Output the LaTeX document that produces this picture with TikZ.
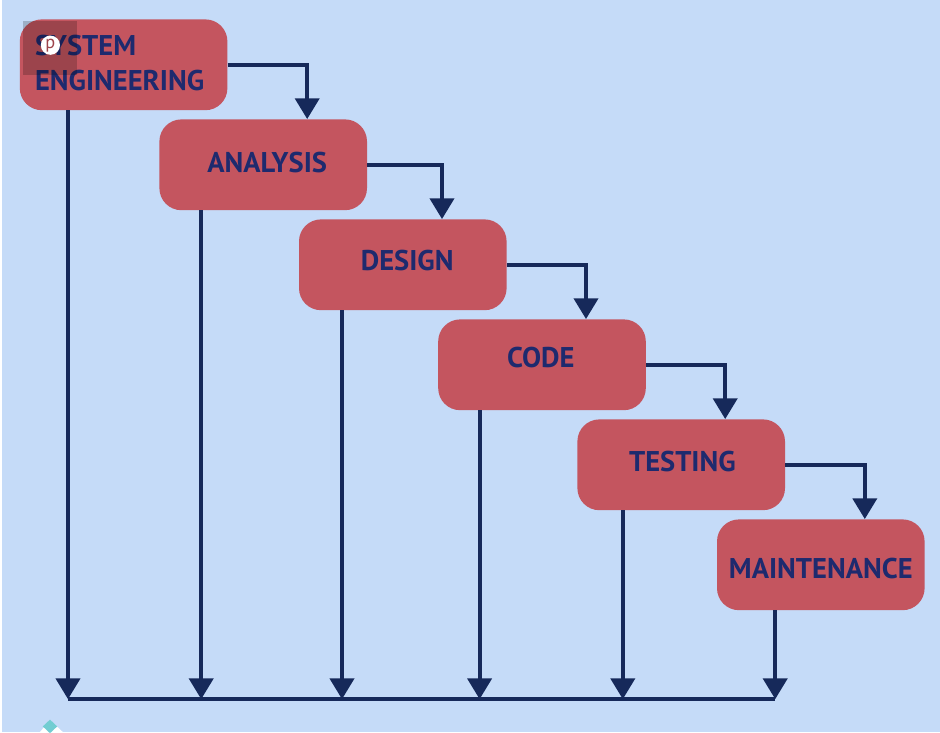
\documentclass[tikz,border=0pt]{standalone}
\usepackage{xcolor}
\usepackage{fontspec}
\setmainfont{PT Sans}
\usetikzlibrary{arrows.meta, positioning, shapes.geometric}
\definecolor{wfback}{HTML}{C5DBF8}
\definecolor{wfbox}{HTML}{C4555F}
\definecolor{wftext}{HTML}{1E2A6E}
\definecolor{wfline}{HTML}{16295A}
\definecolor{wfteal}{HTML}{72CDD2}
\tikzset{
    stagebox/.style={fill=wfbox, minimum width=5.19cm, minimum height=2.27cm, rounded corners=0.55cm},
    stagetext/.style={text=wftext, inner sep=0pt, align=left, font=\fontsize{20.3}{25}\selectfont\bfseries},
    flow/.style={-{Triangle[length=0.52cm, width=0.6cm]}, line width=0.1cm, wfline},
}

\begin{document}
\begin{tikzpicture}
    \clip (0, 0) rectangle (23.5, 18.3);
    \fill[white] (0, 0) rectangle (23.5, 18.3);
    \fill[wfback] (0.05, 0) rectangle (23.5, 18.3);

    % Stages
    \node[stagebox] (system) at (3.09, 16.68) {};
    \node[stagebox] (analysis) at (6.58, 14.18) {};
    \node[stagebox] (design) at (10.07, 11.68) {};
    \node[stagebox] (code) at (13.55, 9.18) {};
    \node[stagebox] (testing) at (17.03, 6.68) {};
    \node[stagebox] (maintenance) at (20.52, 4.18) {};

    % Stage names
    \node[stagetext] (systemtext) at ([shift={(-0.1, 0.04)}]system.center) {SYSTEM\\ENGINEERING};
    \node[stagetext] (analysistext) at ([shift={(0.1, 0.06)}]analysis.center) {ANALYSIS};
    \node[stagetext] (designtext) at ([shift={(0.11, 0.11)}]design.center) {DESIGN};
    \node[stagetext] (codetext) at ([shift={(-0.03, 0.18)}]code.center) {CODE};
    \node[stagetext] (testingtext) at ([shift={(0.03, 0.08)}]testing.center) {TESTING};
    \node[stagetext] (maintenancetext) at ([shift={(0, -0.1)}]maintenance.center) {MAINTENANCE};

    % Bottom line
    \coordinate (busleft) at (1.7, 0.82);
    \coordinate (busright) at (19.38, 0.82);
    \draw[line width=0.1cm, wfline] (busleft) -- (busright);

    % Steps down
    \draw[flow] (system.east) -| ([xshift=1.1cm]analysis.north);
    \draw[flow] (analysis.east) -| ([xshift=0.98cm]design.north);
    \draw[flow] (design.east) -| ([xshift=1.1cm]code.north);
    \draw[flow] (code.east) -| ([xshift=1.1cm]testing.north);
    \draw[flow] (testing.east) -| ([xshift=1.1cm]maintenance.north);

    % Returns to the bottom line
    \draw[flow] (system.south -| busleft) -- (busleft);
    \draw[flow] ([xshift=-1.55cm]analysis.south) -- ([xshift=-1.55cm]analysis.south |- busleft);
    \draw[flow] ([xshift=-1.52cm]design.south) -- ([xshift=-1.52cm]design.south |- busleft);
    \draw[flow] ([xshift=-1.56cm]code.south) -- ([xshift=-1.56cm]code.south |- busleft);
    \draw[flow] ([xshift=-1.46cm]testing.south) -- ([xshift=-1.46cm]testing.south |- busleft);
    \draw[flow] (maintenance.south -| busright) -- (busright);

    % Pin button
    \fill[black, opacity=0.2] (0.58, 16.42) rectangle (1.93, 17.77);
    \node[circle, fill=white, minimum size=0.48cm, inner sep=0pt, text=wfbox!80!black, font=\fontsize{13}{13}\selectfont] (pin) at (1.26, 17.17) {p};

    % Corner mark
    \fill[white] (1.25, 0.3) -- (1.57, 0) -- (1, 0) -- cycle;
    \fill[wfteal] (1.25, 0.31) -- (1.43, 0.14) -- (1.25, -0.03) -- (1.07, 0.14) -- cycle;
\end{tikzpicture}
\end{document}
